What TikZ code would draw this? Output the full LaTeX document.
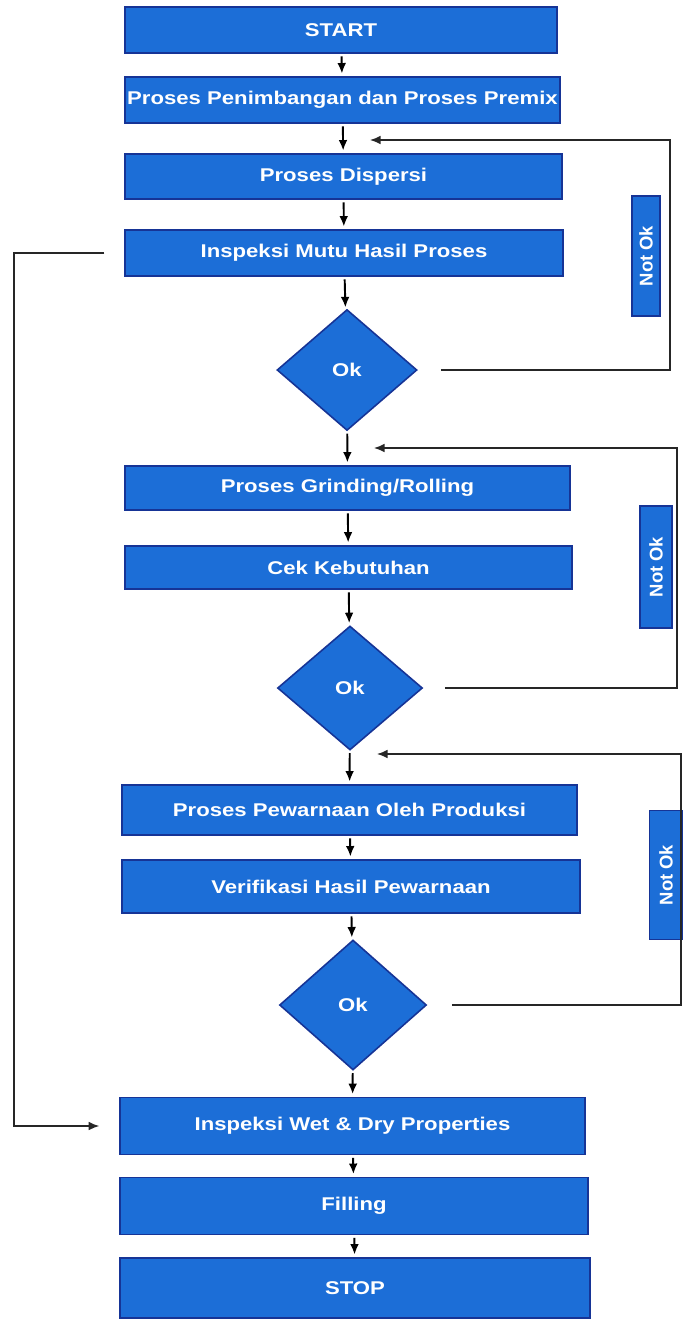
\documentclass[tikz,border=0pt]{standalone}
\usepackage{fontspec}
\setmainfont{Liberation Sans}[FakeStretch=1.2]
\newfontfamily\uprightlabel{Liberation Sans}
\usetikzlibrary{arrows.meta, shapes.geometric}
\definecolor{boxblue}{RGB}{28,110,215}
\definecolor{edgeblue}{RGB}{22,52,150}

\begin{document}
\begin{tikzpicture}[x=0.02cm, y=-0.02cm, >={Latex[length=6pt,width=5pt]},
  font=\fontsize{10.5}{12}\selectfont\bfseries,
  procbox/.style={rectangle, draw=edgeblue, line width=0.9pt,
    fill=boxblue, text=white, inner sep=0pt},
  okdiamond/.style={diamond, draw=edgeblue, line width=0.9pt,
    fill=boxblue, text=white, inner sep=0pt},
  notok/.style={procbox, rotate=90,
    font=\uprightlabel\fontsize{10.5}{12}\selectfont\bfseries},
  flow/.style={->, line width=1.1pt, shorten <=1.5pt, shorten >=1.5pt},
  back/.style={->, line width=0.9pt, black!85}]
  \useasboundingbox (0,0) rectangle (683,1319);

  % Main column of process steps
  \node[procbox, minimum width=8.64cm, minimum height=0.92cm] (start)
    at (341,30) {START};
  \node[procbox, minimum width=8.70cm, minimum height=0.92cm] (premix)
    at (342.5,100) {Proses Penimbangan dan Proses Premix};
  \node[procbox, minimum width=8.74cm, minimum height=0.90cm] (dispersi)
    at (343.5,176.5) {Proses Dispersi};
  \node[procbox, minimum width=8.76cm, minimum height=0.92cm] (mutu)
    at (344,253) {Inspeksi Mutu Hasil Proses};
  \node[okdiamond, minimum width=2.80cm, minimum height=2.42cm] (ok1)
    at (347,370) {Ok};
  \node[procbox, minimum width=8.90cm, minimum height=0.88cm] (grinding)
    at (347.5,488) {Proses Grinding/Rolling};
  \node[procbox, minimum width=8.94cm, minimum height=0.86cm] (cek)
    at (348.5,567.5) {Cek Kebutuhan};
  \node[okdiamond, minimum width=2.90cm, minimum height=2.48cm] (ok2)
    at (350,688) {Ok};
  \node[procbox, minimum width=9.10cm, minimum height=1.00cm] (pewarnaan)
    at (349.5,810) {Proses Pewarnaan Oleh Produksi};
  \node[procbox, minimum width=9.16cm, minimum height=1.06cm] (verifikasi)
    at (351,886.5) {Verifikasi Hasil Pewarnaan};
  \node[okdiamond, minimum width=2.94cm, minimum height=2.60cm] (ok3)
    at (353,1005) {Ok};
  \node[procbox, minimum width=9.30cm, minimum height=1.14cm] (wet)
    at (352.5,1126) {Inspeksi Wet \& Dry Properties};
  \node[procbox, minimum width=9.36cm, minimum height=1.14cm] (filling)
    at (354,1206) {Filling};
  \node[procbox, minimum width=9.40cm, minimum height=1.20cm] (stop)
    at (355,1288) {STOP};

  % Not Ok tags
  \node[notok, minimum width=2.40cm, minimum height=0.56cm] (nok1)
    at (646,256) {Not Ok};
  \node[notok, minimum width=2.44cm, minimum height=0.64cm] (nok2)
    at (656,567) {Not Ok};
  \node[notok, minimum width=2.58cm, minimum height=0.66cm] (nok3)
    at (666,875) {Not Ok};

  % Forward arrows
  \draw[flow] (start) -- (premix);
  \draw[flow] (premix) -- (dispersi);
  \draw[flow] (dispersi) -- (mutu);
  \draw[flow] (mutu) -- (ok1);
  \draw[flow] (ok1) -- (grinding);
  \draw[flow] (grinding) -- (cek);
  \draw[flow] (cek) -- (ok2);
  \draw[flow] (ok2) -- (pewarnaan);
  \draw[flow] (pewarnaan) -- (verifikasi);
  \draw[flow] (verifikasi) -- (ok3);
  \draw[flow] (ok3) -- (wet);
  \draw[flow] (wet) -- (filling);
  \draw[flow] (filling) -- (stop);

  % Return loops
  \coordinate (r1) at (670,140);
  \coordinate (in1) at (370,140);
  \coordinate (r2) at (677,448);
  \coordinate (in2) at (374,448);
  \coordinate (r3) at (681,754);
  \coordinate (in3) at (377,754);
  \coordinate (lft) at (14,253);
  \draw[back, shorten <=0.46cm] (ok1.east) -| (r1) -- (in1);
  \draw[back, shorten <=0.43cm] (ok2.east) -| (r2) -- (in2);
  \draw[back, shorten <=0.49cm] (ok3.east) -| (r3) -- (in3);
  \draw[back, shorten <=0.4cm, shorten >=0.4cm]
    (mutu.west) -- (lft) |- (wet.west);
\end{tikzpicture}
\end{document}
